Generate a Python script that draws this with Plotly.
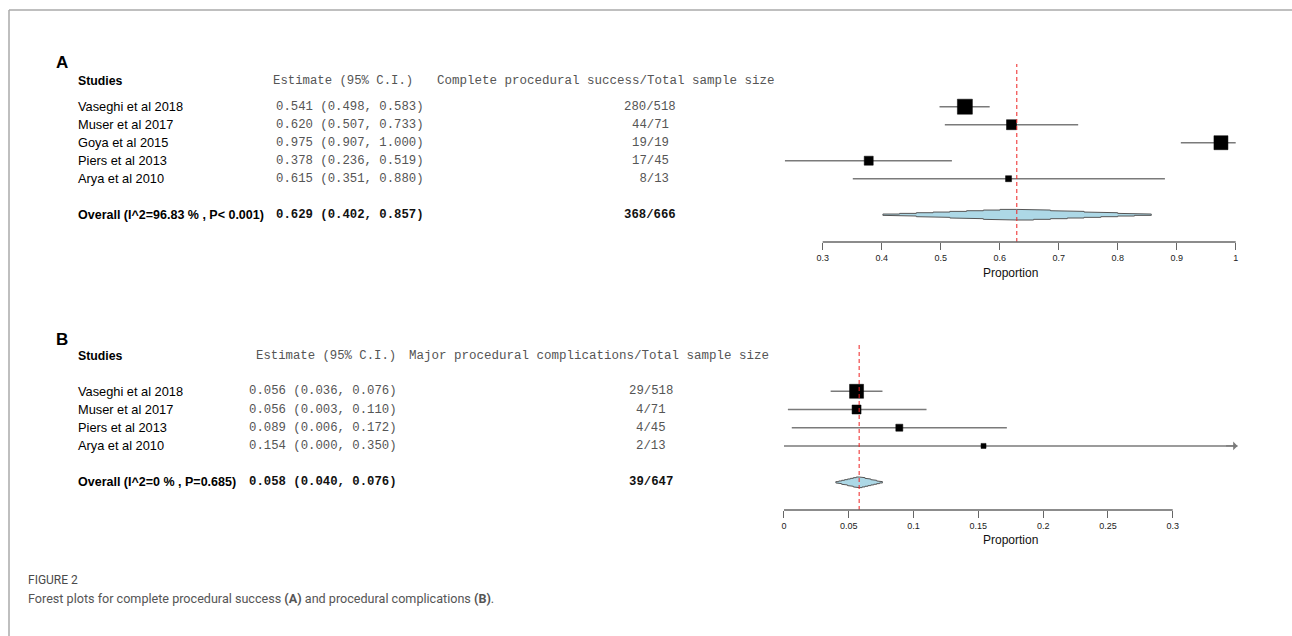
import plotly.graph_objects as go

W, H = 1292, 636

# ---------------- data: panel A ----------------
studies_a = ["Vaseghi et al 2018", "Muser et al 2017", "Goya et al 2015",
             "Piers et al 2013", "Arya et al 2010"]
est_a = [0.541, 0.620, 0.975, 0.378, 0.615]
lo_a = [0.498, 0.507, 0.907, 0.236, 0.351]
hi_a = [0.583, 0.733, 1.000, 0.519, 0.880]
events_a = [280, 44, 19, 17, 8]
totals_a = [518, 71, 19, 45, 13]
overall_label_a = "Overall (I^2=96.83 % , P< 0.001)"
overall_a = [0.629, 0.402, 0.857]          # estimate, lower, upper
overall_counts_a = [368, 666]
count_header_a = "Complete procedural success/Total sample size"
ticks_a = [0.3, 0.4, 0.5, 0.6, 0.7, 0.8, 0.9, 1.0]
tick_text_a = ["0.3", "0.4", "0.5", "0.6", "0.7", "0.8", "0.9", "1"]

# ---------------- data: panel B ----------------
studies_b = ["Vaseghi et al 2018", "Muser et al 2017", "Piers et al 2013",
             "Arya et al 2010"]
est_b = [0.056, 0.056, 0.089, 0.154]
lo_b = [0.036, 0.003, 0.006, 0.000]
hi_b = [0.076, 0.110, 0.172, 0.350]
events_b = [29, 4, 4, 2]
totals_b = [518, 71, 45, 13]
overall_label_b = "Overall (I^2=0 % , P=0.685)"
overall_b = [0.058, 0.040, 0.076]
overall_counts_b = [39, 647]
count_header_b = "Major procedural complications/Total sample size"
ticks_b = [0.0, 0.05, 0.10, 0.15, 0.20, 0.25, 0.30]
tick_text_b = ["0", "0.05", "0.1", "0.15", "0.2", "0.25", "0.3"]

caption_title = "FIGURE 2"
caption_text = ("Forest plots for complete procedural success <b>(A)</b> and "
                "procedural complications <b>(B)</b>.")

# ---------------- styles ----------------
box_a = [15, 10, 14, 9, 6]      # square sizes (px), by study weight
box_b = [14, 9, 7, 5]
SANS = "Arial, Liberation Sans, sans-serif"
MONO = "Courier New, Liberation Mono, monospace"
CAP = "Roboto, Lato, sans-serif"
CI_COL = "#7a7a7a"
AX_COL = "#666666"
MONO_COL = "#555555"


def py(y_px):
    return 1 - y_px / H


def pxx(x_px):
    return x_px / W


def stepped_diamond(lo, est, hi, y0, half_h, n=8):
    xs, ys = [lo], [y0]
    for k in range(n):
        h = half_h * (k + 1) / n
        xs += [lo + (est - lo) * k / n, lo + (est - lo) * (k + 1) / n]
        ys += [y0 - h, y0 - h]
    for k in reversed(range(n)):
        h = half_h * (k + 1) / n
        xs += [hi - (hi - est) * (k + 1) / n, hi - (hi - est) * k / n]
        ys += [y0 - h, y0 - h]
    xs.append(hi)
    ys.append(y0)
    top_x, top_y = xs[1:-1], ys[1:-1]
    xs += top_x[::-1]
    ys += [2 * y0 - v for v in top_y[::-1]]
    xs.append(lo)
    ys.append(y0)
    return xs, ys


fig = go.Figure()
annotations = []
shapes = []

panels = [
    dict(studies=studies_a, est=est_a, lo=lo_a, hi=hi_a, ev=events_a, tot=totals_a,
         olabel=overall_label_a, overall=overall_a, ocounts=overall_counts_a,
         header=count_header_a, ticks=ticks_a, ticktext=tick_text_a, box=box_a,
         xa="x", ya="y", xkey="xaxis", ykey="yaxis",
         # layout geometry (pixels)
         v0_px=822.7, scale=590.0, rng=(0.2, 1.05),
         row1_px=106.7, rowstep=18.0, top_px=64, axis_px=242,
         letter="A", letter_px=62.7, head_px=81, est_x=275, est_head_x=271.7,
         cnt_x=650, cnt_head_x=436, prop_px=273),
    dict(studies=studies_b, est=est_b, lo=lo_b, hi=hi_b, ev=events_b, tot=totals_b,
         olabel=overall_label_b, overall=overall_b, ocounts=overall_counts_b,
         header=count_header_b, ticks=ticks_b, ticktext=tick_text_b, box=box_b,
         xa="x2", ya="y2", xkey="xaxis2", ykey="yaxis2",
         v0_px=784.0, scale=1295.7, rng=(-0.02, 0.37),
         row1_px=391.3, rowstep=18.2, top_px=345, axis_px=510,
         letter="B", letter_px=339, head_px=356, est_x=248.3, est_head_x=255,
         cnt_x=651, cnt_head_x=408.3, prop_px=540),
]

layout_axes = {}
for p in panels:
    n = len(p["studies"])
    rows = list(range(1, n + 1))
    orow = n + 2
    # axis geometry
    x_left = p["v0_px"] + (p["rng"][0] - p["ticks"][0]) * p["scale"]
    x_right = p["v0_px"] + (p["rng"][1] - p["ticks"][0]) * p["scale"]
    r_top = 1 + (p["top_px"] - p["row1_px"]) / p["rowstep"]
    r_bot = 1 + (p["axis_px"] - p["row1_px"]) / p["rowstep"]
    layout_axes[p["xkey"]] = dict(
        domain=[pxx(x_left), pxx(x_right)], range=list(p["rng"]), anchor=p["ya"],
        showgrid=False, zeroline=False, showline=False, fixedrange=True,
        tickvals=p["ticks"], ticktext=p["ticktext"], ticks="outside", ticklen=7,
        tickwidth=1, tickcolor=AX_COL, tickfont=dict(family=SANS, size=9, color="#222"),
    )
    layout_axes[p["ykey"]] = dict(
        domain=[py(p["axis_px"]), py(p["top_px"])], range=[r_bot, r_top],
        anchor=p["xa"], visible=False, fixedrange=True,
    )
    # CI lines
    for e, l, h, r in zip(p["est"], p["lo"], p["hi"], rows):
        fig.add_trace(go.Scatter(
            x=[l, h], y=[r, r], xaxis=p["xa"], yaxis=p["ya"], mode="lines",
            line=dict(color=CI_COL, width=1.5), showlegend=False, hoverinfo="skip",
        ))
    # squares
    fig.add_trace(go.Scatter(
        x=p["est"], y=rows, xaxis=p["xa"], yaxis=p["ya"], mode="markers",
        marker=dict(symbol="square", size=p["box"], color="#000000", opacity=1,
                    line=dict(width=0.5, color="#000000")),
        showlegend=False, hoverinfo="skip",
    ))
    # arrows for CIs that go past the last tick
    for h, r in zip(p["hi"], rows):
        if h > p["ticks"][-1]:
            annotations.append(dict(
                x=h, y=r, xref=p["xa"], yref=p["ya"], ax=h - 0.01, ay=r,
                axref=p["xa"], ayref=p["ya"], text="", showarrow=True,
                arrowhead=1, arrowsize=1.2, arrowwidth=1.2, arrowcolor=CI_COL))
    # overall diamond
    oe, ol, oh = p["overall"]
    dx, dy = stepped_diamond(ol, oe, oh, orow, 5.3 / p["rowstep"])
    fig.add_trace(go.Scatter(
        x=dx, y=dy, xaxis=p["xa"], yaxis=p["ya"], mode="lines", fill="toself",
        fillcolor="#add8e6", line=dict(color="#555", width=1),
        showlegend=False, hoverinfo="skip",
    ))
    # red dashed line at overall estimate
    shapes.append(dict(type="line", xref=p["xa"], yref=p["ya"] + " domain",
                       x0=oe, x1=oe, y0=0, y1=1, layer="above",
                       line=dict(color="#ee2222", width=1, dash="4px,3px")))
    # axis line
    shapes.append(dict(type="line", xref=p["xa"], yref=p["ya"] + " domain",
                       x0=p["ticks"][0], x1=p["ticks"][-1], y0=0, y1=0,
                       line=dict(color=AX_COL, width=1.3)))
    # x title
    annotations.append(dict(text="Proportion", x=pxx(1010), y=py(p["prop_px"]),
                            xref="paper", yref="paper", showarrow=False,
                            xanchor="center", yanchor="middle",
                            font=dict(family=SANS, size=12, color="#111")))
    # headers
    annotations.append(dict(text="<b>" + p["letter"] + "</b>", x=pxx(54),
                            y=py(p["letter_px"]), xref="paper", yref="paper",
                            showarrow=False, xanchor="left", yanchor="middle",
                            font=dict(family=SANS, size=17, color="black")))
    annotations.append(dict(text="<b>Studies</b>", x=pxx(75.5), y=py(p["head_px"]),
                            xref="paper", yref="paper", showarrow=False,
                            xanchor="left", yanchor="middle",
                            font=dict(family=SANS, size=12.3, color="black")))
    annotations.append(dict(text="Estimate (95% C.I.)", x=pxx(p["est_head_x"] - 1),
                            y=py(p["head_px"]), xref="paper", yref="paper",
                            showarrow=False, xanchor="left", yanchor="middle",
                            font=dict(family=MONO, size=12.3, color=MONO_COL)))
    annotations.append(dict(text=p["header"], x=pxx(p["cnt_head_x"] - 1),
                            y=py(p["head_px"]), xref="paper", yref="paper",
                            showarrow=False, xanchor="left", yanchor="middle",
                            font=dict(family=MONO, size=12.5, color=MONO_COL)))
    # row texts
    for i in range(n):
        r = rows[i]
        annotations.append(dict(text=p["studies"][i], x=pxx(75.5), y=r,
                                xref="paper", yref=p["ya"], showarrow=False,
                                xanchor="left", yanchor="middle",
                                font=dict(family=SANS, size=12.8, color="black")))
        annotations.append(dict(
            text=f"{p['est'][i]:.3f} ({p['lo'][i]:.3f}, {p['hi'][i]:.3f})",
            x=pxx(p["est_x"] - 1), y=r, xref="paper", yref=p["ya"], showarrow=False,
            xanchor="left", yanchor="middle",
            font=dict(family=MONO, size=12.3, color=MONO_COL)))
        ev = str(p["ev"][i])
        if p["letter"] == "A" and len(ev) < 2:
            ev = "\u00a0" + ev
        annotations.append(dict(text=f"{ev}/{p['tot'][i]}", x=pxx(p["cnt_x"]), y=r,
                                xref="paper", yref=p["ya"], showarrow=False,
                                xanchor="center", yanchor="middle",
                                font=dict(family=MONO, size=12.3, color=MONO_COL)))
    # overall row text
    annotations.append(dict(text="<b>" + p["olabel"] + "</b>", x=pxx(75.5), y=orow,
                            xref="paper", yref=p["ya"], showarrow=False,
                            xanchor="left", yanchor="middle",
                            font=dict(family=SANS, size=12.5, color="black")))
    annotations.append(dict(text=f"<b>{oe:.3f} ({ol:.3f}, {oh:.3f})</b>",
                            x=pxx(p["est_x"] - 1), y=orow, xref="paper", yref=p["ya"],
                            showarrow=False, xanchor="left", yanchor="middle",
                            font=dict(family=MONO, size=12.3, color="#111")))
    annotations.append(dict(text=f"<b>{p['ocounts'][0]}/{p['ocounts'][1]}</b>",
                            x=pxx(p["cnt_x"]), y=orow, xref="paper", yref=p["ya"],
                            showarrow=False, xanchor="center", yanchor="middle",
                            font=dict(family=MONO, size=12.3, color="#111")))

# frame lines
shapes.append(dict(type="line", xref="paper", yref="paper", x0=pxx(9), x1=1,
                   y0=py(10), y1=py(10), line=dict(color="#aaaaaa", width=1.5)))
shapes.append(dict(type="line", xref="paper", yref="paper", x0=pxx(9), x1=pxx(9),
                   y0=py(10), y1=0, line=dict(color="#aaaaaa", width=1.5)))

# caption
annotations.append(dict(text=caption_title, x=pxx(26), y=py(580), xref="paper",
                        yref="paper", showarrow=False, xanchor="left",
                        yanchor="middle",
                        font=dict(family=CAP, size=12, color="#4a4a4a")))
annotations.append(dict(text=caption_text, x=pxx(26), y=py(598), xref="paper",
                        yref="paper", showarrow=False, xanchor="left",
                        yanchor="middle",
                        font=dict(family=CAP, size=12.6, color="#555555")))

fig.update_layout(
    width=W, height=H, margin=dict(l=0, r=0, t=0, b=0),
    paper_bgcolor="white", plot_bgcolor="white",
    annotations=annotations, shapes=shapes, showlegend=False,
    **layout_axes,
)

fig.write_html("out.html", config={"displayModeBar": False},
               post_script="document.body.style.margin='0';")
